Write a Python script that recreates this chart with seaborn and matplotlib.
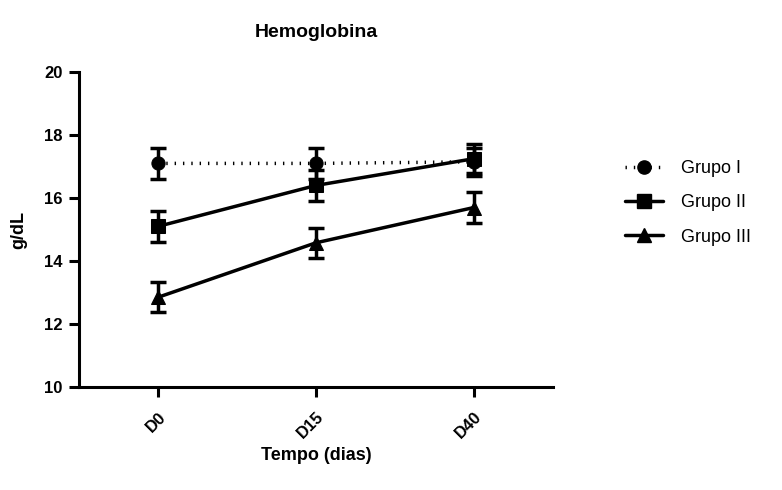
import matplotlib
matplotlib.use("Agg")
import matplotlib.pyplot as plt
import seaborn as sns
import pandas as pd
from matplotlib.lines import Line2D

# Hemoglobin means and standard deviations per group and day
days = ["D0", "D15", "D40"]
groups = ["Grupo I", "Grupo II", "Grupo III"]
grupo_i_mean = [17.1, 17.1, 17.15]
grupo_i_sd = [0.5, 0.5, 0.45]
grupo_ii_mean = [15.1, 16.4, 17.25]
grupo_ii_sd = [0.48, 0.48, 0.45]
grupo_iii_mean = [12.85, 14.58, 15.7]
grupo_iii_sd = [0.48, 0.48, 0.5]

means = [grupo_i_mean, grupo_ii_mean, grupo_iii_mean]
sds = [grupo_i_sd, grupo_ii_sd, grupo_iii_sd]

rows = []
for g, m, s in zip(groups, means, sds):
    for i, d in enumerate(days):
        rows.append({"grupo": g, "pos": i, "dia": d, "valor": m[i], "sd": s[i]})
df = pd.DataFrame(rows)

sns.set_theme(style="ticks")
plt.rcParams["font.family"] = ["Liberation Sans", "DejaVu Sans"]
plt.rcParams["font.weight"] = "bold"
plt.rcParams["text.color"] = "black"
plt.rcParams["axes.labelcolor"] = "black"
plt.rcParams["xtick.color"] = "black"
plt.rcParams["ytick.color"] = "black"

fig = plt.figure(figsize=(7.82, 4.9), dpi=100)
ax = fig.add_axes([0.101, 0.210, 0.606, 0.643])

LW = 2.5
markers = {"Grupo I": "o", "Grupo II": "s", "Grupo III": "^"}
dashes = {"Grupo I": (0.4, 2.0), "Grupo II": "", "Grupo III": ""}
palette = {g: "black" for g in groups}

sns.lineplot(data=df, x="pos", y="valor", hue="grupo", style="grupo",
             markers=markers, dashes=dashes, palette=palette,
             linewidth=LW, markersize=9.5, markeredgecolor="black",
             ax=ax, legend=False, zorder=3)

for g in groups:
    sub = df[df["grupo"] == g]
    ax.errorbar(sub["pos"], sub["valor"], yerr=sub["sd"], fmt="none",
                ecolor="black", elinewidth=LW, capsize=5.5, capthick=LW,
                zorder=2)

ax.set_xlim(-0.5, 2.5)
ax.set_ylim(10, 20)
ax.set_yticks([10, 12, 14, 16, 18, 20])
ax.set_xticks(range(len(days)))
ax.set_xticklabels(days, rotation=45, ha="right", rotation_mode="anchor")
for lab in ax.get_xticklabels() + ax.get_yticklabels():
    lab.set_fontweight("bold")
    lab.set_fontsize(12)

for side in ["top", "right"]:
    ax.spines[side].set_visible(False)
for side in ["left", "bottom"]:
    ax.spines[side].set_linewidth(2.2)
    ax.spines[side].set_color("black")
ax.tick_params(axis="both", width=2.2, length=7, color="black", labelcolor="black")
ax.tick_params(axis="x", pad=9)
ax.tick_params(axis="y", pad=5)

ax.set_xlabel("Tempo (dias)", fontsize=13, fontweight="bold", labelpad=4)
ax.set_ylabel("g/dL", fontsize=13, fontweight="bold", labelpad=12)
ax.set_title("Hemoglobina", fontsize=14, fontweight="bold", pad=25)

# Legend built from the same styles as the plotted lines
handles = [
    Line2D([], [], color="black", marker="o", markersize=9.5, linewidth=LW,
           linestyle=(0, (0.4, 2.0))),
    Line2D([], [], color="black", marker="s", markersize=9.5, linewidth=LW),
    Line2D([], [], color="black", marker="^", markersize=9.5, linewidth=LW),
]
leg = ax.legend(handles, groups, loc="upper left", bbox_to_anchor=(1.152, 0.72),
                frameon=False, handlelength=2.1, handletextpad=1.0,
                labelspacing=0.95, borderaxespad=0, borderpad=0,
                prop={"weight": "normal", "size": 13})

fig.savefig("out.png", dpi=100)
